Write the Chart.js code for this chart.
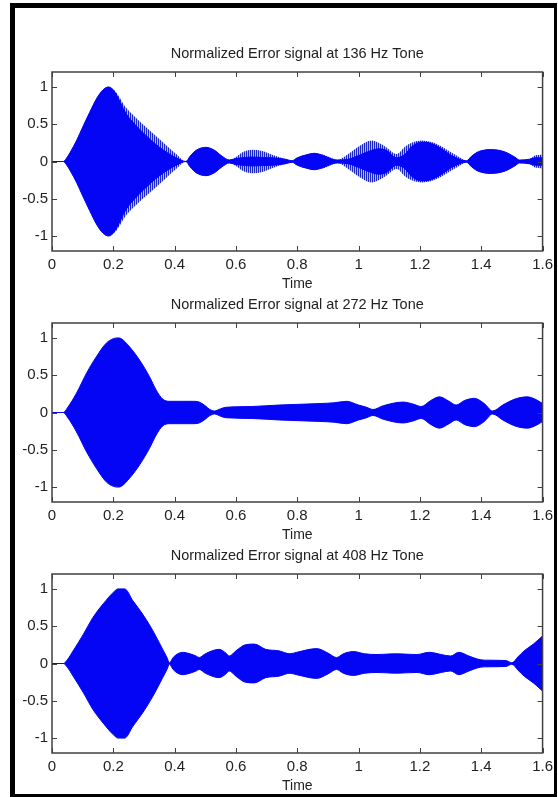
<!DOCTYPE html>
<html>
<head>
<meta charset="utf-8">
<script src="https://cdn.jsdelivr.net/npm/chart.js@4.4.1/dist/chart.umd.min.js"></script>
<style>
    html, body { margin: 0; padding: 0; background: #ffffff; }
    body { width: 558px; height: 797px; position: relative; overflow: hidden; }
    .frame {
        position: absolute; left: 10px; top: 3px; width: 547px; height: 794px;
        box-sizing: border-box; border-style: solid; border-color: #000;
        border-width: 5px 3px 3px 5px; pointer-events: none;
    }
    canvas { position: absolute; left: 0; }
</style>
</head>
<body>
<div class="frame"></div>
<canvas id="plot136" width="558" height="265" style="top:30px"></canvas>
<canvas id="plot272" width="558" height="265" style="top:281px"></canvas>
<canvas id="plot408" width="558" height="265" style="top:532px"></canvas>
<script>
// tick positions shared by all three subplots
const xTicks = [0, 0.2, 0.4, 0.6, 0.8, 1, 1.2, 1.4, 1.6];
const yTicks = [-1, -0.5, 0, 0.5, 1];

// 136 Hz: envelope of the error signal (outer) and its dense core
const time136 = [0, 0.037, 0.05, 0.059, 0.08, 0.1, 0.123, 0.145, 0.166, 0.185, 0.205, 0.242, 0.27, 0.296, 0.351, 0.405, 0.437,
    0.45, 0.47, 0.502, 0.53, 0.555, 0.578, 0.6, 0.62, 0.653, 0.686, 0.718, 0.762, 0.783, 0.8, 0.83, 0.855, 0.885, 0.915, 0.93,
    0.966, 1.0, 1.043, 1.065, 1.09, 1.124, 1.152, 1.173, 1.206, 1.238, 1.271, 1.303, 1.336, 1.352, 1.368, 1.39, 1.433, 1.476,
    1.509, 1.525, 1.557, 1.575, 1.6];
const outer136 = [0, 0, 0.06, 0.12, 0.28, 0.46, 0.66, 0.84, 0.96, 1.0, 0.95, 0.72, 0.6, 0.5, 0.3, 0.1, 0,
    0.07, 0.15, 0.19, 0.15, 0.07, 0.02, 0.06, 0.12, 0.156, 0.14, 0.09, 0.03, 0.01, 0.05, 0.09, 0.11, 0.09, 0.04, 0.02,
    0.1, 0.2, 0.28, 0.25, 0.19, 0.1, 0.2, 0.25, 0.28, 0.26, 0.2, 0.12, 0.04, 0.01, 0.07, 0.13, 0.16, 0.13,
    0.06, 0.02, 0.03, 0.08, 0.09];
const core136 = [0, 0, 0.06, 0.12, 0.28, 0.46, 0.66, 0.84, 0.96, 1.0, 0.93, 0.64, 0.5, 0.39, 0.19, 0.05, 0,
    0.07, 0.15, 0.19, 0.15, 0.07, 0.02, 0.04, 0.05, 0.06, 0.055, 0.05, 0.03, 0.01, 0.05, 0.09, 0.11, 0.08, 0.03, 0.02,
    0.03, 0.08, 0.15, 0.17, 0.15, 0.05, 0.1, 0.2, 0.26, 0.24, 0.17, 0.08, 0.02, 0.01, 0.07, 0.13, 0.16, 0.13,
    0.06, 0.02, 0.03, 0.05, 0.05];

// 272 Hz
const time272 = [0, 0.037, 0.05, 0.08, 0.113, 0.145, 0.177, 0.2, 0.215, 0.226, 0.253, 0.286, 0.318, 0.34, 0.361, 0.383, 0.42,
    0.46, 0.48, 0.5, 0.515, 0.53, 0.55, 0.567, 0.65, 0.74, 0.874, 0.92, 0.961, 1.0, 1.026, 1.047, 1.08, 1.145, 1.18, 1.204,
    1.235, 1.264, 1.295, 1.318, 1.345, 1.377, 1.41, 1.437, 1.47, 1.51, 1.55, 1.58, 1.6];
const amp272 = [0, 0, 0.06, 0.26, 0.53, 0.75, 0.93, 0.99, 1.0, 0.99, 0.88, 0.7, 0.48, 0.3, 0.18, 0.15, 0.15,
    0.15, 0.14, 0.09, 0.04, 0.02, 0.05, 0.07, 0.08, 0.1, 0.12, 0.13, 0.15, 0.1, 0.07, 0.04, 0.09, 0.14, 0.11, 0.08,
    0.16, 0.21, 0.15, 0.1, 0.16, 0.19, 0.12, 0.02, 0.1, 0.18, 0.21, 0.17, 0.12];

// 408 Hz
const time408 = [0, 0.037, 0.05, 0.069, 0.102, 0.134, 0.167, 0.199, 0.215, 0.237, 0.264, 0.296, 0.329, 0.361, 0.375, 0.383,
    0.395, 0.41, 0.426, 0.45, 0.47, 0.48, 0.5, 0.545, 0.567, 0.578, 0.6, 0.63, 0.66, 0.697, 0.74, 0.776, 0.798, 0.863, 0.9,
    0.928, 0.95, 0.983, 1.02, 1.06, 1.12, 1.19, 1.23, 1.27, 1.3, 1.327, 1.36, 1.387, 1.41, 1.48, 1.5, 1.52, 1.54, 1.57, 1.6];
const amp408 = [0, 0, 0.05, 0.17, 0.39, 0.62, 0.8, 0.95, 1.0, 1.0, 0.84, 0.66, 0.44, 0.19, 0.08, 0.01,
    0.08, 0.13, 0.15, 0.13, 0.1, 0.08, 0.13, 0.19, 0.14, 0.1, 0.17, 0.25, 0.26, 0.19, 0.17, 0.13, 0.15, 0.2, 0.14,
    0.08, 0.13, 0.16, 0.13, 0.12, 0.13, 0.12, 0.15, 0.12, 0.1, 0.15, 0.1, 0.06, 0.045, 0.04, 0.01, 0.09, 0.17, 0.26, 0.37];

const blue = '#0505f5';
const axisColor = '#404040';
const textColor = '#222222';
const fontFamily = '"Liberation Sans", Arial, sans-serif';

// thin vertical stripes for the sparse part of the 136 Hz trace
const stripeTile = document.createElement('canvas');
stripeTile.width = 2;
stripeTile.height = 1;
const tileCtx = stripeTile.getContext('2d');
tileCtx.fillStyle = '#1b26c6';
tileCtx.fillRect(0, 0, 1, 1);
tileCtx.fillStyle = '#b4b9dc';
tileCtx.fillRect(1, 0, 1, 1);
const stripes = tileCtx.createPattern(stripeTile, 'repeat');

// title centred over the plot box, box around the axes, inward tick marks on all four sides
const boxPlugin = {
    id: 'boxAxes',
    afterDraw: function (chart, args, opts) {
        const ctx = chart.ctx;
        const area = chart.chartArea;
        const xs = chart.scales.x;
        const ys = chart.scales.y;
        const len = 5;
        ctx.save();
        ctx.fillStyle = textColor;
        ctx.font = '14.5px ' + fontFamily;
        ctx.textAlign = 'center';
        ctx.textBaseline = 'middle';
        ctx.fillText(opts.title, (area.left + area.right) / 2, area.top - 18);

        ctx.strokeStyle = axisColor;
        ctx.lineWidth = 1.5;
        ctx.strokeRect(area.left, area.top, area.right - area.left, area.bottom - area.top);
        ctx.lineWidth = 1;
        ctx.beginPath();
        xTicks.forEach(function (v) {
            const px = Math.round(xs.getPixelForValue(v)) + 0.5;
            ctx.moveTo(px, area.bottom);
            ctx.lineTo(px, area.bottom - len);
            ctx.moveTo(px, area.top);
            ctx.lineTo(px, area.top + len);
        });
        yTicks.forEach(function (v) {
            const py = Math.round(ys.getPixelForValue(v)) + 0.5;
            ctx.moveTo(area.left, py);
            ctx.lineTo(area.left + len, py);
            ctx.moveTo(area.right, py);
            ctx.lineTo(area.right - len, py);
        });
        ctx.stroke();
        ctx.restore();
    }
};

function toPoints(times, values, sign) {
    return times.map(function (t, i) {
        return { x: t, y: sign * values[i] };
    });
}

function makePlot(canvasId, title, times, outer, core) {
    // first dataset is drawn on top, so the solid band goes first
    const solid = core || outer;
    const datasets = [
        { data: toPoints(times, solid, 1), fill: '+1', backgroundColor: blue, borderColor: blue, borderWidth: 1 },
        { data: toPoints(times, solid, -1), fill: false, borderColor: blue, borderWidth: 1 }
    ];
    if (core) {
        datasets.push({ data: toPoints(times, outer, 1), fill: '+1', backgroundColor: stripes, borderWidth: 0 });
        datasets.push({ data: toPoints(times, outer, -1), fill: false, borderWidth: 0 });
    }

    return new Chart(document.getElementById(canvasId), {
        type: 'line',
        data: { datasets: datasets },
        options: {
            responsive: false,
            animation: false,
            events: [],
            layout: { padding: { left: 0, right: 13, top: 42, bottom: 0 } },
            elements: {
                point: { radius: 0 },
                line: { cubicInterpolationMode: 'monotone' }
            },
            plugins: {
                legend: { display: false },
                tooltip: { enabled: false },
                boxAxes: { title: title }
            },
            scales: {
                x: {
                    type: 'linear',
                    min: 0,
                    max: 1.6,
                    afterBuildTicks: function (scale) {
                        scale.ticks = xTicks.map(function (v) { return { value: v }; });
                    },
                    afterFit: function (scale) { scale.height = 44; },
                    grid: { display: false, drawTicks: false },
                    border: { display: false },
                    ticks: {
                        color: textColor,
                        padding: 5,
                        maxRotation: 0,
                        font: { family: fontFamily, size: 15 },
                        callback: function (v) { return String(v); }
                    },
                    title: {
                        display: true,
                        text: 'Time',
                        color: textColor,
                        font: { family: fontFamily, size: 14 },
                        padding: { top: 0, bottom: 2 }
                    }
                },
                y: {
                    min: -1.2,
                    max: 1.2,
                    afterBuildTicks: function (scale) {
                        scale.ticks = yTicks.map(function (v) { return { value: v }; });
                    },
                    afterFit: function (scale) { scale.width = 52; },
                    grid: { display: false, drawTicks: false },
                    border: { display: false },
                    ticks: {
                        color: textColor,
                        padding: 4,
                        font: { family: fontFamily, size: 15 },
                        callback: function (v) { return String(v); }
                    }
                }
            }
        },
        plugins: [boxPlugin]
    });
}

makePlot('plot136', 'Normalized Error signal at 136 Hz Tone', time136, outer136, core136);
makePlot('plot272', 'Normalized Error signal at 272 Hz Tone', time272, amp272, null);
makePlot('plot408', 'Normalized Error signal at 408 Hz Tone', time408, amp408, null);
</script>
</body>
</html>
